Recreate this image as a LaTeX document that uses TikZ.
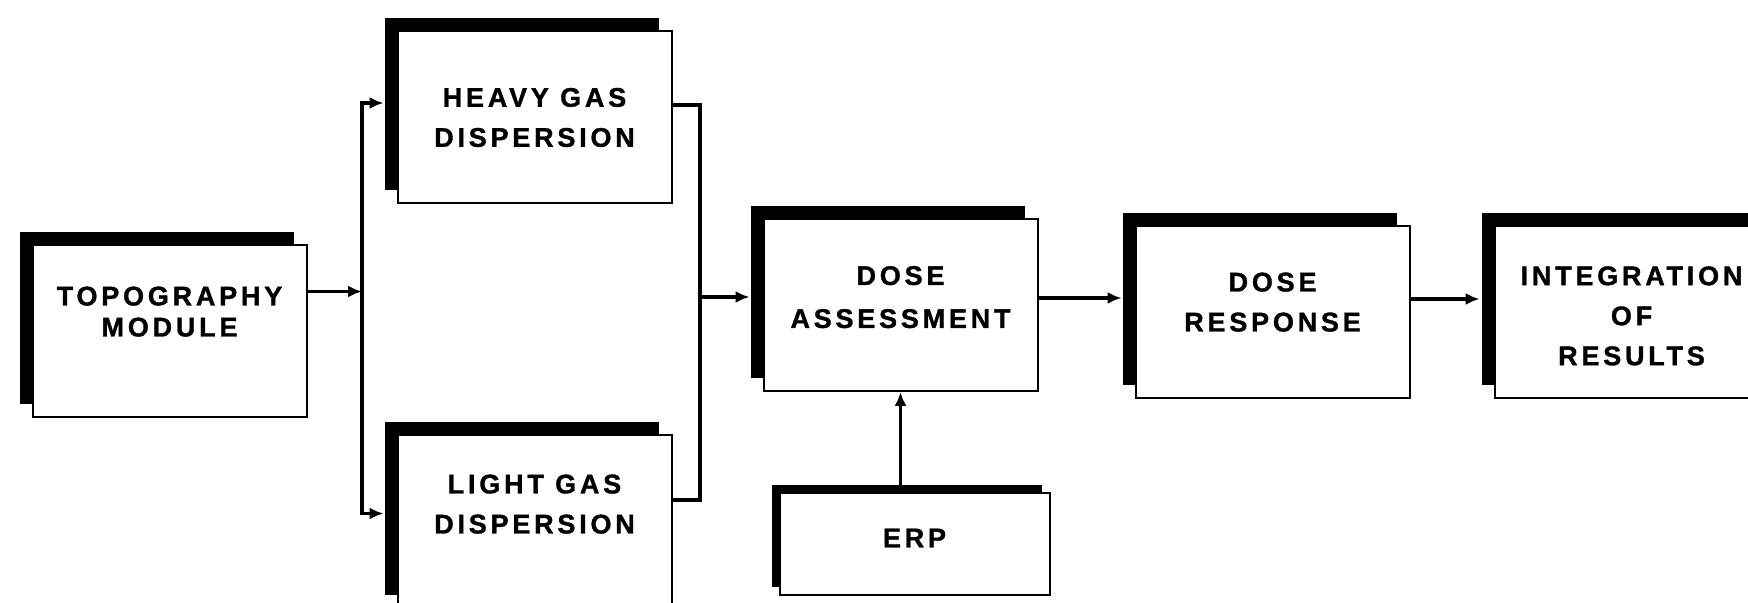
\documentclass[tikz,border=0pt]{standalone}
\usepackage{fontspec}
\newfontfamily\capsfont[LetterSpace=14, FakeBold=1.2]{Liberation Sans Bold}
\usepackage{tikz}
\usetikzlibrary{positioning, shadows, arrows.meta, calc}

\begin{document}
\begin{tikzpicture}[
  module/.style={rectangle, draw=black, line width=1pt, fill=white, align=center,
    minimum width=137pt, minimum height=86pt, inner sep=0pt,
    font=\capsfont\fontsize{13.5}{20}\selectfont,
    drop shadow={shadow xshift=-#1, shadow yshift=#1, fill=black, opacity=1}},
  module/.default=6.5pt,
  link/.style={-{Latex[length=7pt,width=6pt]}, line width=1.7pt},
  wire/.style={line width=1.7pt}
]
  \useasboundingbox (0,0) rectangle (874pt,-301.5pt);

  \node[module, text depth=20pt, font=\capsfont\fontsize{13.5}{15.5}\selectfont] (topo) at (84.75pt,-165.75pt) {TOPOGRAPHY\\MODULE};
  \node[module, right=44.5pt of topo, yshift=107pt] (heavy) {HEAVY GAS\\DISPERSION};
  \node[module, below=115pt of heavy, text depth=17.5pt] (light) {LIGHT GAS\\DISPERSION};
  \node[module, right=45pt of heavy, yshift=-93.75pt, text depth=8pt,
    font=\capsfont\fontsize{13.5}{21.5}\selectfont] (dosea) {DOSE\\ASSESSMENT};
  \node[module=4pt, below=50pt of dosea, xshift=7pt, minimum width=135pt, minimum height=51pt,
    text depth=6pt] (erp) {ERP};
  \node[module, right=48pt of dosea, yshift=-3.5pt, text depth=10pt] (doser) {DOSE\\RESPONSE};
  \node[module, right=41.5pt of doser, text depth=0pt] (integ) {\rule{0pt}{13.2pt}INTEGRATION\\OF\\RESULTS};

  \coordinate[right=27.25pt of topo.east] (busl);
  \coordinate[right=13.75pt of heavy.east] (busr);
  \coordinate (hin) at ([yshift=7.25pt]heavy.west);
  \coordinate (lin) at ([yshift=4pt]light.west);
  \coordinate (hout) at ([yshift=6.25pt]heavy.east);
  \coordinate (lout) at ([yshift=10.75pt]light.east);
  \coordinate (ain) at ([yshift=4pt]dosea.west);

  \draw[link] ([yshift=20pt]topo.east) coordinate (t1) -- (t1 -| busl);
  \draw[link, shorten >=6.5pt] (busl |- lin) -- (busl |- hin) -- (hin);
  \draw[link, shorten >=6.5pt] (busl |- hin) -- (busl |- lin) -- (lin);
  \draw[wire] (hout) -| (busr |- lout) -- (lout);
  \draw[link, shorten >=6.5pt] (busr |- ain) -- (ain);
  \draw[link] (erp.north -| dosea.south) -- (dosea.south);
  \draw[link, shorten >=6.5pt] ([yshift=3.5pt]dosea.east) coordinate (a1) -- (a1 -| doser.west);
  \draw[link, shorten >=7pt] ([yshift=6.5pt]doser.east) coordinate (r1) -- (r1 -| integ.west);
\end{tikzpicture}
\end{document}
